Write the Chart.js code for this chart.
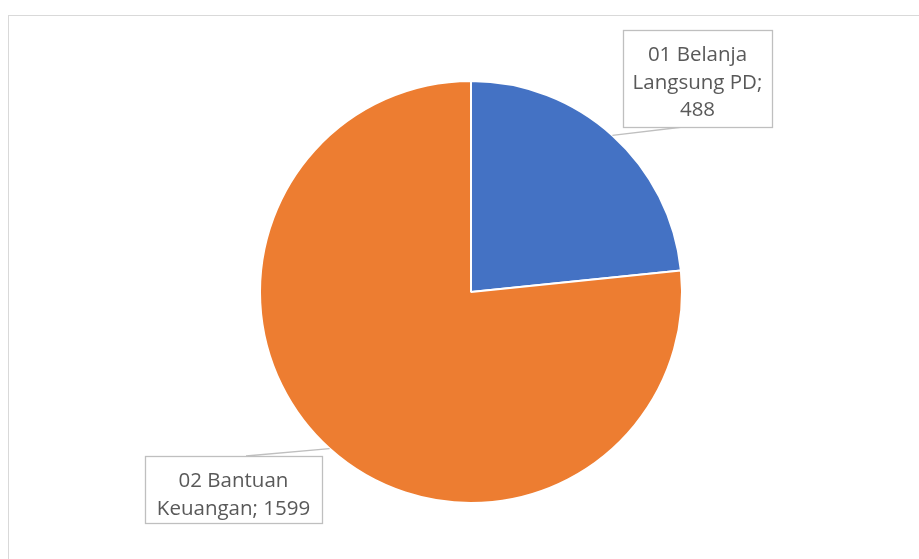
<!DOCTYPE html>
<html>
<head>
<meta charset="utf-8">
<script src="https://cdn.jsdelivr.net/npm/chart.js@4.4.0/dist/chart.umd.min.js"></script>
<style>
  html, body { margin: 0; padding: 0; background: #fff; }
  #wrap { width: 919px; height: 559px; position: relative; }
</style>
</head>
<body>
<div id="wrap"><canvas id="pieChart" width="919" height="559"></canvas></div>
<script>
// data
const categories = ['01 Belanja Langsung PD', '02 Bantuan Keuangan'];
const values = [488, 1599];
const colors = ['#4472C4', '#ED7D31'];

// label boxes (callouts) : text lines + box rect
const calloutLines = [
    ['01 Belanja', 'Langsung PD;', '488'],
    ['02 Bantuan', 'Keuangan; 1599']
];
const calloutBoxes = [
    { x: 623, y: 30, w: 149, h: 97, joinX: 683, joinY: 127 },
    { x: 145, y: 456, w: 177, h: 67, joinX: 246, joinY: 456 }
];

// outer frame + callouts
const calloutPlugin = {
    id: 'callouts',
    beforeDraw(chart) {
        const c = chart.ctx;
        c.save();
        c.strokeStyle = '#d9d9d9';
        c.lineWidth = 1;
        c.strokeRect(8.5, 15.5, 1000, 700);
        c.restore();
    },
    afterDatasetsDraw(chart) {
        const c = chart.ctx;
        const meta = chart.getDatasetMeta(0);
        c.save();
        c.font = '20.5px "Open Sans"';
        c.textAlign = 'center';
        c.textBaseline = 'alphabetic';
        meta.data.forEach((arc, i) => {
            const b = calloutBoxes[i];
            // leader starts on the slice edge at its middle angle
            const ang = (arc.startAngle + arc.endAngle) / 2;
            const r = arc.outerRadius;
            const sx = arc.x + Math.cos(ang) * r;
            const sy = arc.y + Math.sin(ang) * r;
            c.strokeStyle = '#bfbfbf';
            c.lineWidth = 1.3;
            c.beginPath();
            c.moveTo(sx, sy);
            c.lineTo(b.joinX, b.joinY);
            c.stroke();

            c.fillStyle = '#fff';
            c.fillRect(b.x, b.y, b.w, b.h);
            c.strokeStyle = '#bfbfbf';
            c.lineWidth = 1.3;
            c.strokeRect(b.x + 0.5, b.y + 0.5, b.w, b.h);

            c.fillStyle = '#595959';
            const lines = calloutLines[i];
            lines.forEach((t, k) => c.fillText(t, b.x + b.w / 2, b.y + 31 + k * 27.5));
        });
        c.restore();
    }
};

const ctx = document.getElementById('pieChart').getContext('2d');
new Chart(ctx, {
    type: 'pie',
    data: {
        labels: categories,
        datasets: [{
            data: values,
            backgroundColor: colors,
            borderColor: '#ffffff',
            borderWidth: 2
        }]
    },
    options: {
        responsive: false,
        animation: false,
        layout: { padding: { left: 259, right: 236, top: 80, bottom: 55 } },
        plugins: {
            legend: { display: false },
            tooltip: { enabled: false }
        }
    },
    plugins: [calloutPlugin]
});
</script>
</body>
</html>
